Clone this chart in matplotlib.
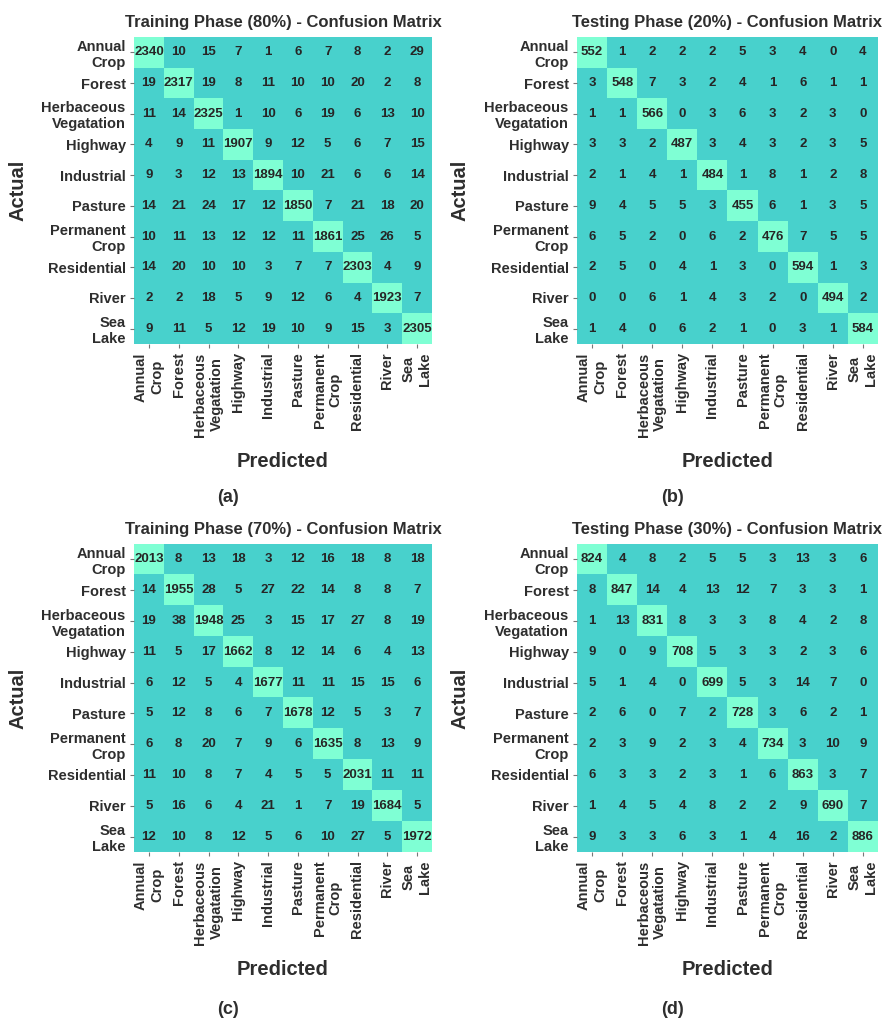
import numpy as np
import matplotlib
matplotlib.use("Agg")
import matplotlib.pyplot as plt
from matplotlib.colors import ListedColormap

# Классы
classes = ["Annual\nCrop", "Forest", "Herbaceous\nVegatation", "Highway", "Industrial",
           "Pasture", "Permanent\nCrop", "Residential", "River", "Sea\nLake"]

# (a) Training 80%
cm_train_80 = [
    [2340, 10, 15, 7, 1, 6, 7, 8, 2, 29],
    [19, 2317, 19, 8, 11, 10, 10, 20, 2, 8],
    [11, 14, 2325, 1, 10, 6, 19, 6, 13, 10],
    [4, 9, 11, 1907, 9, 12, 5, 6, 7, 15],
    [9, 3, 12, 13, 1894, 10, 21, 6, 6, 14],
    [14, 21, 24, 17, 12, 1850, 7, 21, 18, 20],
    [10, 11, 13, 12, 12, 11, 1861, 25, 26, 5],
    [14, 20, 10, 10, 3, 7, 7, 2303, 4, 9],
    [2, 2, 18, 5, 9, 12, 6, 4, 1923, 7],
    [9, 11, 5, 12, 19, 10, 9, 15, 3, 2305],
]

# (b) Testing 20%
cm_test_20 = [
    [552, 1, 2, 2, 2, 5, 3, 4, 0, 4],
    [3, 548, 7, 3, 2, 4, 1, 6, 1, 1],
    [1, 1, 566, 0, 3, 6, 3, 2, 3, 0],
    [3, 3, 2, 487, 3, 4, 3, 2, 3, 5],
    [2, 1, 4, 1, 484, 1, 8, 1, 2, 8],
    [9, 4, 5, 5, 3, 455, 6, 1, 3, 5],
    [6, 5, 2, 0, 6, 2, 476, 7, 5, 5],
    [2, 5, 0, 4, 1, 3, 0, 594, 1, 3],
    [0, 0, 6, 1, 4, 3, 2, 0, 494, 2],
    [1, 4, 0, 6, 2, 1, 0, 3, 1, 584],
]

# (c) Training 70%
cm_train_70 = [
    [2013, 8, 13, 18, 3, 12, 16, 18, 8, 18],
    [14, 1955, 28, 5, 27, 22, 14, 8, 8, 7],
    [19, 38, 1948, 25, 3, 15, 17, 27, 8, 19],
    [11, 5, 17, 1662, 8, 12, 14, 6, 4, 13],
    [6, 12, 5, 4, 1677, 11, 11, 15, 15, 6],
    [5, 12, 8, 6, 7, 1678, 12, 5, 3, 7],
    [6, 8, 20, 7, 9, 6, 1635, 8, 13, 9],
    [11, 10, 8, 7, 4, 5, 5, 2031, 11, 11],
    [5, 16, 6, 4, 21, 1, 7, 19, 1684, 5],
    [12, 10, 8, 12, 5, 6, 10, 27, 5, 1972],
]

# (d) Testing 30%
cm_test_30 = [
    [824, 4, 8, 2, 5, 5, 3, 13, 3, 6],
    [8, 847, 14, 4, 13, 12, 7, 3, 3, 1],
    [1, 13, 831, 8, 3, 3, 8, 4, 2, 8],
    [9, 0, 9, 708, 5, 3, 3, 2, 3, 6],
    [5, 1, 4, 0, 699, 5, 3, 14, 7, 0],
    [2, 6, 0, 7, 2, 728, 3, 6, 2, 1],
    [2, 3, 9, 2, 3, 4, 734, 3, 10, 9],
    [6, 3, 3, 2, 3, 1, 6, 863, 3, 7],
    [1, 4, 5, 4, 8, 2, 2, 9, 690, 7],
    [9, 3, 3, 6, 3, 1, 4, 16, 2, 886],
]

titles = ["Training Phase (80%) - Confusion Matrix",
          "Testing Phase (20%) - Confusion Matrix",
          "Training Phase (70%) - Confusion Matrix",
          "Testing Phase (30%) - Confusion Matrix"]
letters = ["(a)", "(b)", "(c)", "(d)"]
matrices = [cm_train_80, cm_test_20, cm_train_70, cm_test_30]

plt.rcParams['font.family'] = ['Liberation Sans', 'DejaVu Sans']
plt.rcParams['font.weight'] = 'bold'
txt = "#2e2e2e"
cmap = ListedColormap(["#48D1CC", "#7FFFD4"])

W, H = 889, 1021
fig = plt.figure(figsize=(W / 100, H / 100), dpi=100)

# положение осей в пикселях: (x0, y0_top, ширина, высота)
boxes = [(134, 37, 298, 307), (577, 37, 301, 307),
         (134, 544, 298, 308), (577, 544, 301, 308)]
letter_pos = [(228, 498), (672, 498), (228, 1009), (672, 1009)]

n = len(classes)
for cm, title, box, let, lp in zip(matrices, titles, boxes, letters, letter_pos):
    x0, y0, w, h = box
    ax = fig.add_axes([x0 / W, 1 - (y0 + h) / H, w / W, h / H])
    arr = np.array(cm)
    mask = np.eye(n)
    ax.imshow(mask, cmap=cmap, aspect='auto', vmin=0, vmax=1, interpolation='nearest')
    for i in range(n):
        for j in range(n):
            ax.text(j, i, str(arr[i, j]), ha='center', va='center',
                    fontsize=9.5, fontweight='bold', color="#262626")
    ax.set_xticks(range(n))
    ax.set_yticks(range(n))
    ax.set_xticklabels(classes, rotation=90, fontsize=10.5, fontweight='bold', color=txt)
    ax.set_yticklabels(classes, fontsize=10.5, fontweight='bold', color=txt)
    ax.tick_params(length=3, width=0.8, color="#777777", pad=3)
    for s in ax.spines.values():
        s.set_visible(False)
    ax.set_title(title, fontsize=12, fontweight='bold', color=txt, pad=7)
    ax.set_ylabel("Actual", fontsize=14.5, fontweight='bold', color=txt)
    ax.set_xlabel("Predicted", fontsize=14.5, fontweight='bold', color=txt)
    ax.yaxis.set_label_coords(-0.357, 0.5)
    ax.xaxis.set_label_coords(0.5, -0.352)
    fig.text(lp[0] / W, 1 - lp[1] / H, let, ha='center', va='center',
             fontsize=13, fontweight='bold', color=txt)

plt.savefig("out.png", dpi=100, facecolor='white')
